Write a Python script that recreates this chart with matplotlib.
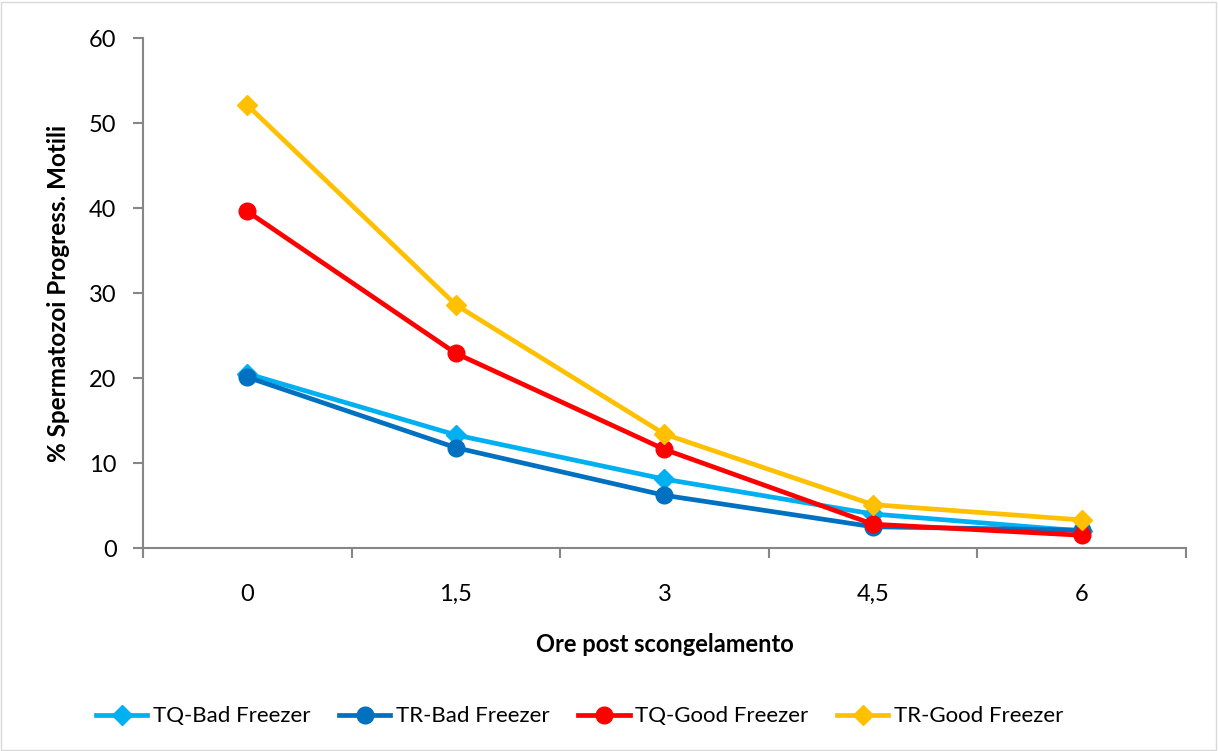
import matplotlib.pyplot as plt
import numpy as np

# Dati
ore = ['0', '1,5', '3', '4,5', '6']
tq_bad = [20.5, 13.3, 8.1, 4.0, 2.0]
tr_bad = [20.1, 11.8, 6.2, 2.5, 2.1]
tq_good = [39.6, 22.9, 11.6, 2.8, 1.5]
tr_good = [52.1, 28.6, 13.4, 5.1, 3.3]

plt.rcParams['font.family'] = ['Lato', 'DejaVu Sans']

fig = plt.figure(figsize=(12.18, 7.51), dpi=100)
ax = fig.add_axes([0.1174, 0.2703, 0.8563, 0.6791])

x = np.arange(len(ore))
lw = 3.4
ax.plot(x, tq_bad, color='#00B0F0', lw=lw, marker='D', ms=10, label='TQ-Bad Freezer')
ax.plot(x, tr_bad, color='#0070C0', lw=lw, marker='o', ms=12, label='TR-Bad Freezer')
ax.plot(x, tq_good, color='#FF0000', lw=lw, marker='o', ms=12, label='TQ-Good Freezer')
ax.plot(x, tr_good, color='#FFC000', lw=lw, marker='D', ms=10, label='TR-Good Freezer')

ax.set_xlim(-0.5, len(ore) - 0.5)
ax.set_ylim(0, 60)
ax.set_yticks(range(0, 61, 10))
ax.set_xticks(np.arange(-0.5, len(ore), 1.0))
ax.set_xticklabels([])
ax.set_xticks(x, minor=True)
ax.set_xticklabels(ore, minor=True)
ax.tick_params(axis='x', which='minor', length=0, pad=26, labelsize=17)
ax.tick_params(axis='x', which='major', length=7, color='#868686', width=1.5)
ax.tick_params(axis='y', length=7, color='#868686', width=1.5, labelsize=17, pad=12)

for s in ['top', 'right']:
    ax.spines[s].set_visible(False)
for s in ['left', 'bottom']:
    ax.spines[s].set_color('#868686')
    ax.spines[s].set_linewidth(1.5)

ax.set_ylabel('% Spermatozoi Progress. Motili', fontsize=17.5, fontweight='bold', labelpad=14)
ax.set_xlabel('Ore post scongelamento', fontsize=17, fontweight='bold', labelpad=20)

fig.legend(loc='center', bbox_to_anchor=(0.476, 0.046), ncol=4, frameon=False,
           fontsize=16, handlelength=2.3, handletextpad=0.25, columnspacing=1.3)

# bordo del grafico
fig.patches.append(plt.Rectangle((0.001, 0.001), 0.997, 0.997, transform=fig.transFigure,
                                 fill=False, edgecolor='#D9D9D9', lw=1))

plt.savefig('out.png', dpi=100)
